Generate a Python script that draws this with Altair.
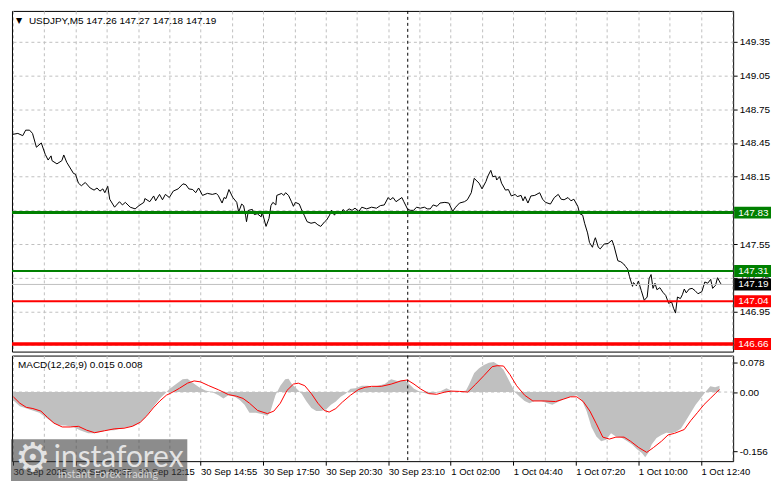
import json
import altair as alt
import pandas as pd

# ---------------- data ----------------
symbol_header = "USDJPY,M5  147.26 147.27 147.18 147.19"
macd_header = "MACD(12,26,9) 0.015 0.008"

# price line: bar index (5-minute bars) and close
price_bar = [
    0, 2.5, 5, 6.5, 8.5, 10, 12, 14.5, 16.5, 18, 19.5, 20, 22.5, 25, 26, 27.5, 31, 32, 33.5, 35,
    37, 39.5, 41.5, 43, 44.5, 46, 47, 48.5, 49.5, 52, 54.5, 56, 57.5, 60, 62.5, 64.5, 67, 67.5, 70, 72,
    73, 75, 76.5, 78, 80, 82, 84.5, 87, 88.5, 90, 92, 93.5,
    95, 97, 99.5, 102, 104, 105, 107, 108, 109, 110.5, 112.5, 114.5, 115.5, 117, 118, 119, 119.5, 120.5,
    122.5, 123.5, 125, 127, 127.5, 129.5, 131, 132, 133, 134.5, 135, 137.5, 138.5, 139.5, 141, 142.5,
    143.5, 144.5, 146.5, 147.5, 149, 150.5, 152.5, 154.5, 156, 157.5, 159.5, 160.5, 162, 163, 164.5,
    165.5, 167.5, 169, 170, 172, 173.5, 175, 177, 178.5, 181, 183.5,
    186, 188, 190, 192, 193, 194.5, 196, 199, 200, 202, 203.5, 205, 206.5, 208.5, 210.5, 212, 213.5,
    215, 217, 218.5, 221, 223, 225, 226.5, 228.5, 231, 232.5, 234.5, 236, 238.5, 240, 242, 243, 244.5,
    245.5, 247, 247.5, 249, 250, 252, 253.5, 255, 257, 258, 260, 261, 262, 263.5, 265, 267, 269.5, 271,
    272.5, 275, 277, 279, 280.5, 282, 284, 285.5, 287, 289,
    290, 291.5, 292.5, 294, 295, 296.5, 297.5, 298, 299.5, 300.5, 302.5, 304.5, 306.5, 307.5, 309.5,
    311, 312.5, 313.5, 314.5, 315.5, 317, 317.5, 319, 320, 321.5, 323, 324.5, 325.5, 326.5, 327.5,
    328.5, 329.5, 331, 332.5, 334, 335.5, 337, 338, 339, 340, 341.5, 342.5, 343.5, 344.5, 346, 347.5,
    349, 350.5, 352.5, 354, 355.5, 357, 358, 359.5, 360.5, 362, 362.5,
]
price_close = [
    148.527, 148.535, 148.515, 148.564, 148.564, 148.535, 148.412, 148.450, 148.349, 148.298, 148.335,
    148.292, 148.264, 148.292, 148.343, 148.278, 148.178, 148.172, 148.092, 148.069, 148.098, 148.049,
    148.030, 148.049, 148.021, 148.041, 148.007, 148.064, 147.949, 147.878, 147.927, 147.898, 147.921,
    147.878, 147.863, 147.892, 147.921, 147.955, 147.927, 147.978, 147.935, 147.992, 147.944, 147.992,
    147.964, 148.021, 148.041, 148.086, 148.078, 148.041, 148.035, 148.007,
    148.049, 147.983, 148.001, 147.992, 148.001, 147.983, 147.915, 147.964, 147.955, 148.035, 147.964,
    147.921, 147.835, 147.906, 147.892, 147.807, 147.749, 147.850, 147.858, 147.812, 147.820, 147.792,
    147.835, 147.707, 147.778, 147.892, 147.921, 147.898, 147.983, 148.001, 147.983, 148.007, 147.983,
    147.927, 147.886, 147.921, 147.906, 147.863, 147.807, 147.749, 147.735, 147.743, 147.721, 147.707,
    147.749, 147.764, 147.807, 147.850, 147.807, 147.835, 147.820, 147.858, 147.835, 147.863, 147.850,
    147.869, 147.841, 147.878, 147.863, 147.878,
    147.869, 147.892, 147.898, 147.964, 147.944, 147.964, 147.927, 147.964, 147.927, 147.858, 147.850,
    147.850, 147.878, 147.869, 147.878, 147.863, 147.863, 147.898, 147.886, 147.915, 147.921, 147.915,
    147.841, 147.878, 147.915, 147.927, 147.944, 148.007, 148.135, 148.092, 148.041, 148.107, 148.155,
    148.206, 148.150, 148.155, 148.120, 148.150, 148.092, 148.030, 148.035, 147.978, 147.992, 147.972,
    147.983, 147.935, 147.972, 147.915, 147.978, 147.983, 148.007, 147.949, 147.921, 147.906, 147.964,
    147.992, 147.949, 147.944, 147.964, 147.935, 147.949, 147.886,
    147.820, 147.807, 147.735, 147.649, 147.563, 147.521, 147.584, 147.606, 147.521, 147.507, 147.550,
    147.555, 147.584, 147.535, 147.401, 147.392, 147.372, 147.349, 147.327, 147.258, 147.173, 147.207,
    147.178, 147.220, 147.135, 147.049, 147.078, 147.241, 147.278, 147.155, 147.201, 147.143, 147.161,
    147.121, 147.092, 147.021, 147.035, 146.978, 146.935, 147.078, 147.064, 147.098, 147.149, 147.115,
    147.149, 147.155, 147.135, 147.107, 147.126, 147.212, 147.201, 147.235, 147.155, 147.183, 147.250,
    147.201, 147.190,
]

# MACD histogram (main line, grey)
hist_bar = [
    0, 3.5, 8.5, 13.5, 16.8, 20.2, 23.5, 26.8, 31, 34.3, 38.5, 41.8, 45.2, 48.5, 51.8, 55.2, 58.5,
    61.8, 65.2, 67.7, 70.2, 72.7, 75.2, 77.7, 80.2, 83.5, 86.8, 89.3, 91.8, 95.2, 98.5, 101.8, 105.2,
    107.7, 110.2, 113.5, 116, 118.5, 121, 124.3, 127.7, 130.2, 131.8, 134.3, 136.8, 139.3, 141, 142.7,
    145.2, 147.7, 150.2, 152.7, 155.2, 157.7, 160.2, 162.7, 165.2, 167.7, 170.2, 172.7, 175.2, 178.5,
    181.8,
    183.5, 186.8, 190.2, 193.5, 196.8, 200.2, 202.7, 205.2, 208.5, 211.8, 215.2, 218.5, 221.8, 225.2,
    228.5, 231.8, 233.5, 236, 238.5, 241, 243.5, 246, 248.5, 251, 253.5, 255.2, 256.8, 259.3, 261.8,
    264.3, 266.8, 270.2, 273.5, 276, 279.3, 282.7, 285.2, 288.5, 291, 293.5, 296, 298.5, 301, 303.5,
    306, 308.5, 311, 314.3, 316.8, 319.3, 321.8, 323.5, 325.2, 326.8, 329.3, 331.8, 334.3, 336.8,
    339.3, 341.8, 344.3, 346.8, 349.3, 351.8, 354.3, 356.8, 359.3, 361.5,
]
hist_val = [
    -0.0210, -0.0378, -0.0461, -0.0545, -0.0671, -0.0797, -0.0881, -0.0881, -0.0923, -0.1007,
    -0.1091, -0.1091, -0.1049, -0.1007, -0.1007, -0.0965, -0.0923, -0.0906, -0.0797, -0.0671,
    -0.0503, -0.0336, -0.0168, -0.0042, 0.0084, 0.0210, 0.0336, 0.0352, 0.0252, 0.0126,
    0.0042, 0.0, -0.0084, -0.0168, -0.0084, -0.0126, -0.0210, -0.0336, -0.0545, -0.0545,
    -0.0587, -0.0629, -0.0503, -0.0084, 0.0168, 0.0336, 0.0352, 0.0210, 0.0084, -0.0042,
    -0.0252, -0.0419, -0.0503, -0.0503, -0.0461, -0.0336, -0.0252, -0.0126, -0.0042, 0.0084,
    0.0101, 0.0168, 0.0168,
    0.0126, 0.0168, 0.0210, 0.0336, 0.0294, 0.0319, 0.0210, 0.0084, 0.0, -0.0042,
    -0.0042, 0.0017, 0.0101, 0.0017, 0.0, 0.0042, 0.0210, 0.0503, 0.0629, 0.0713,
    0.0772, 0.0797, 0.0713, 0.0587, 0.0336, 0.0168, 0.0, -0.0126, -0.0235, -0.0294,
    -0.0235, -0.0235, -0.0294, -0.0336, -0.0252, -0.0168, -0.0126, -0.0084, -0.0210, -0.0503,
    -0.0923, -0.1174, -0.1300, -0.1258, -0.1091, -0.1174, -0.1191, -0.1300, -0.1384, -0.1510,
    -0.1611, -0.1720, -0.1594, -0.1384, -0.1216, -0.1133, -0.1074, -0.1091, -0.1049, -0.0965,
    -0.0755, -0.0545, -0.0336, -0.0168, 0.0, 0.0151, 0.0126, 0.0168,
]

# MACD signal line (red)
signal_bar = [
    0.2, 3.5, 6.8, 10.2, 14.3, 17.7, 21, 25.2, 29.3, 33.5, 37.7, 41.8, 46.8, 51.8, 56.8, 61, 65.2,
    68.5, 71.8, 75.2, 78.5, 81.8, 85.2, 89.3, 92.7, 96, 100.2, 105.2, 110.2, 114.3, 117.7, 121, 125.2,
    130.2, 133.5, 136.8, 140.2, 143.5, 146, 149.3, 152.7, 156, 159.3, 161.8, 165.2, 168.5, 172.7,
    176.8, 180.2, 183.5,
    188.5, 193.5, 198.5, 201.8, 205.2, 208.5, 212.7, 216.8, 221, 224.3, 228.5, 232.7, 236.8, 241,
    245.2, 247.7, 251, 254.3, 257.7, 261.8, 266, 271.8, 277.7, 281.8, 285.2, 288.5, 291.8, 295.2,
    298.5, 301.8, 305.2, 308.5, 312.7, 316, 320.2, 324.3, 327.7, 331.8, 335.2, 338.5, 343.5, 346.8,
    350.2, 353.5, 356.8, 359.3, 361.5,
]
signal_val = [
    -0.0126, -0.0294, -0.0403, -0.0436, -0.0503, -0.0671, -0.0822, -0.0923, -0.0923, -0.0906,
    -0.1007, -0.1074, -0.1023, -0.0973, -0.0956, -0.0906, -0.0797, -0.0629, -0.0419, -0.0235,
    -0.0084, 0.0, 0.0101, 0.0235, 0.0294, 0.0268, 0.0168, 0.0059, -0.0067, -0.0109,
    -0.0168, -0.0294, -0.0487, -0.0570, -0.0503, -0.0294, 0.0042, 0.0210, 0.0235, 0.0168,
    -0.0042, -0.0294, -0.0487, -0.0529, -0.0436, -0.0268, -0.0084, 0.0067, 0.0126, 0.0151,
    0.0151, 0.0210, 0.0294, 0.0319, 0.0210, 0.0084, -0.0042, -0.0059, 0.0, 0.0025,
    0.0017, 0.0, 0.0210, 0.0436, 0.0671, 0.0696, 0.0688, 0.0461, 0.0168, -0.0084,
    -0.0235, -0.0235, -0.0252, -0.0185, -0.0126, -0.0126, -0.0252, -0.0503, -0.0839, -0.1191,
    -0.1242, -0.1191, -0.1191, -0.1300, -0.1468, -0.1594, -0.1468, -0.1300, -0.1133, -0.1091,
    -0.0990, -0.0755, -0.0545, -0.0336, -0.0168, -0.0042, 0.0067,
]

# horizontal levels
resistance_levels = [147.83, 147.31]
support_levels = [147.04, 146.66]
last_price = 147.19
separator_bar = 202  # day separator (1 Oct 00:00)

# axis ticks / labels
x_grid_bars = list(range(0, 369, 16))
x_labels = ["30 Sep 2025", "30 Sep 09:35", "30 Sep 12:15", "30 Sep 14:55", "30 Sep 17:50",
            "30 Sep 20:30", "30 Sep 23:10", "1 Oct 02:00", "1 Oct 04:40", "1 Oct 07:20",
            "1 Oct 10:00", "1 Oct 12:40"]
price_ticks = [146.65, 146.95, 147.25, 147.55, 147.85, 148.15, 148.45, 148.75, 149.05, 149.35]
macd_ticks = [-0.156, 0.0, 0.078]

assert len(price_bar) == len(price_close)
assert len(hist_bar) == len(hist_val)
assert len(signal_bar) == len(signal_val)

# ---------------- layout / style ----------------
FONT = "Liberation Sans"
W, H1, H2 = 724, 342, 106
XDOM = [-0.5, 368.5]
PDOM = [146.592, 149.626]
MDOM = [-0.1826, 0.0964]
BOX_HALF = 0.053
GREEN, RED = "#008000", "#ff0000"
GRID = "#c0c0c0"

price_df = pd.DataFrame({"bar": price_bar, "close": price_close})
price_df["i"] = range(len(price_df))
hist_df = pd.DataFrame({"bar": hist_bar, "v": hist_val})
signal_df = pd.DataFrame({"bar": signal_bar, "v": signal_val})
one = pd.DataFrame({"a": [0]})

xscale = alt.Scale(domain=XDOM, nice=False, zero=False)

# ---------- price panel ----------
price_axis = alt.Axis(
    orient="right", values=price_ticks, tickCount=100, title=None, grid=True, domain=False,
    tickSize=4, labelPadding=2, labelAlign="left", labelFontSize=10, labelOverlap=False,
    labelBound=False, labelFlush=False,
    labelExpr="(abs(datum.value-147.85)<0.001 || abs(datum.value-146.65)<0.001) ? '' : format(datum.value, '.2f')",
)
x_top_axis = alt.Axis(values=x_grid_bars, tickCount=100, labels=False, ticks=False, domain=False,
                      grid=True, title=None)

price_line = alt.Chart(price_df).mark_line(color="black", strokeWidth=1).encode(
    x=alt.X("bar:Q", scale=xscale, axis=x_top_axis),
    y=alt.Y("close:Q", scale=alt.Scale(domain=PDOM, nice=False, zero=False), axis=price_axis),
    order="i:Q",
)

last_rule = alt.Chart(pd.DataFrame({"p": [last_price]})).mark_rule(color=GRID, strokeWidth=1).encode(
    y="p:Q")

sep_rule_top = alt.Chart(pd.DataFrame({"b": [separator_bar]})).mark_rule(
    color="black", strokeWidth=1, strokeDash=[3, 3]).encode(x="b:Q")

level_layers = []
for p, col, sw in [(resistance_levels[0], GREEN, 3), (resistance_levels[1], GREEN, 2),
                   (support_levels[0], RED, 2), (support_levels[1], RED, 3.5)]:
    level_layers.append(
        alt.Chart(pd.DataFrame({"p": [p]})).mark_rule(color=col, strokeWidth=sw).encode(y="p:Q"))

box_df = pd.DataFrame({
    "p": resistance_levels + [last_price] + support_levels,
    "fill": [GREEN, GREEN, "#000000", RED, RED],
})
box_df["label"] = box_df["p"].map(lambda v: f"{v:.2f}")

boxes = alt.Chart(box_df).transform_calculate(
    lo=f"datum.p - {BOX_HALF}", hi=f"datum.p + {BOX_HALF}"
).mark_rect().encode(
    x=alt.value(W + 1), x2=alt.value(W + 38),
    y="lo:Q", y2="hi:Q",
    color=alt.Color("fill:N", scale=None),
)
box_text = alt.Chart(box_df).mark_text(
    align="left", baseline="middle", color="white", font=FONT, fontSize=10
).encode(x=alt.value(W + 5), y="p:Q", text="label:N")

tri = alt.Chart(one).mark_text(text="▼", align="left", baseline="middle", fontSize=8,
                               font="DejaVu Sans", color="black").encode(
    x=alt.value(4), y=alt.value(10))
header = alt.Chart(one).mark_text(text=symbol_header, align="left", baseline="middle",
                                  fontSize=10, font=FONT, color="black").encode(
    x=alt.value(17), y=alt.value(10))

price_panel = alt.layer(
    price_line, last_rule, sep_rule_top, *level_layers, boxes, box_text, tri, header
).properties(width=W, height=H1)

# ---------- MACD panel ----------
x_label_expr = (
    "datum.value % 32 === 0 ? " + json.dumps(x_labels) + "[datum.value / 32] : ''"
)
x_bottom_axis = alt.Axis(
    values=x_grid_bars, tickCount=100, grid=True, domain=False, title=None, labelExpr=x_label_expr,
    labelAlign="left", labelPadding=1, labelFontSize=9.5, tickSize=4,
    tickColor={"condition": {"test": "datum.value % 32 === 0", "value": "black"},
               "value": "transparent"},
    labelOverlap=False, labelBound=False, labelFlush=False,
)
macd_axis = alt.Axis(
    orient="right", values=macd_ticks, tickCount=100, title=None, grid=False, domain=False,
    tickSize=4, labelPadding=2, labelAlign="left", labelFontSize=10, labelOverlap=False,
    labelBound=False, labelFlush=False,
    labelExpr="datum.value > 0.05 ? '0.078' : (datum.value < -0.1 ? '-0.156' : '0.00')",
)
mscale = alt.Scale(domain=MDOM, nice=False, zero=False)

hist = alt.Chart(hist_df).mark_area(color="#c0c0c0", interpolate="linear").encode(
    x=alt.X("bar:Q", scale=xscale, axis=x_bottom_axis),
    y=alt.Y("v:Q", scale=mscale, axis=macd_axis),
    y2=alt.datum(0),
)
zero_rule = alt.Chart(pd.DataFrame({"z": [0.0]})).mark_rule(
    color=GRID, strokeWidth=1, strokeDash=[3, 3]).encode(y="z:Q")
signal = alt.Chart(signal_df).mark_line(color=RED, strokeWidth=1).encode(x="bar:Q", y="v:Q")
sep_rule_bot = alt.Chart(pd.DataFrame({"b": [separator_bar]})).mark_rule(
    color="black", strokeWidth=1, strokeDash=[3, 3]).encode(x="b:Q")
macd_text = alt.Chart(one).mark_text(text=macd_header, align="left", baseline="middle",
                                     fontSize=10, font=FONT, color="black").encode(
    x=alt.value(6), y=alt.value(9))

# watermark
wm_box = alt.Chart(one).mark_rect(color="#404040", opacity=0.6).encode(
    x=alt.value(-1), x2=alt.value(176), y=alt.value(84), y2=alt.value(H2 + 20))
wm_gear = alt.Chart(one).mark_text(text="⚙", align="center", baseline="middle", fontSize=40,
                                   font="DejaVu Sans", color="#e8e8e8", opacity=0.95).encode(
    x=alt.value(21), y=alt.value(104))
wm_brand = alt.Chart(one).mark_text(text="instaforex", align="left", baseline="alphabetic",
                                    fontSize=30, font="Lato", color="#e8e8e8", opacity=0.95).encode(
    x=alt.value(42), y=alt.value(112))
wm_sub = alt.Chart(one).mark_text(text="Instant Forex Trading", align="left", baseline="middle",
                                  fontSize=11, font="Lato", color="#d8d8d8", opacity=0.95).encode(
    x=alt.value(46), y=alt.value(120))

macd_panel = alt.layer(
    hist, zero_rule, signal, sep_rule_bot, macd_text, wm_box, wm_gear, wm_brand, wm_sub
).properties(width=W, height=H2)

chart = alt.vconcat(price_panel, macd_panel, spacing=2).properties(
    padding={"left": 1, "top": 1, "right": 1, "bottom": 1},
    background="white",
).configure_view(
    stroke="black", strokeWidth=1
).configure_axis(
    labelFont=FONT, labelColor="black", tickColor="black", gridColor=GRID,
    gridDash=[3, 3], gridWidth=1,
)

chart.save("out.html", embed_options={"renderer": "svg", "actions": False})
